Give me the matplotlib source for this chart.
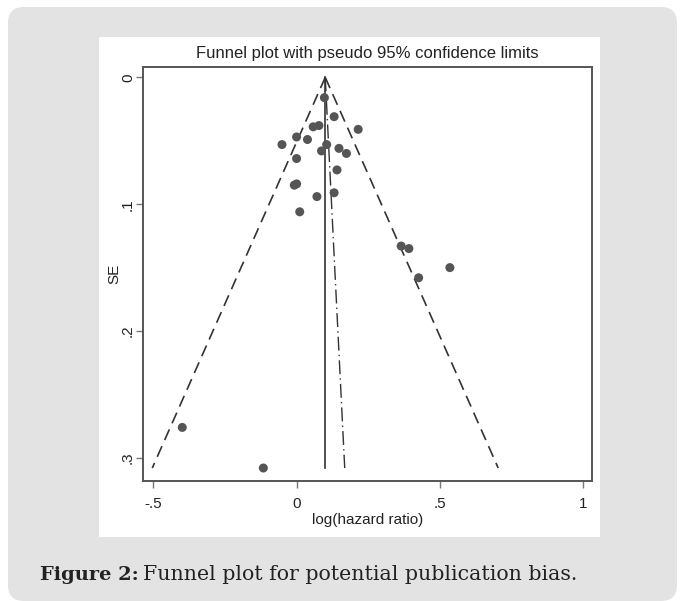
import matplotlib
matplotlib.use("Agg")
import matplotlib.pyplot as plt
from matplotlib.patches import FancyBboxPatch, Rectangle
import numpy as np

# ---- data ----
log_hr = [0.097, 0.131, 0.058, 0.078, 0.215, 0.000, 0.038, -0.051, 0.105, 0.087,
          0.148, 0.174, 0.000, 0.141, -0.008, 0.000, 0.071, 0.131, 0.011, 0.365,
          0.392, 0.535, 0.426, -0.399, -0.116]
se = [0.016, 0.031, 0.039, 0.038, 0.041, 0.047, 0.049, 0.053, 0.053, 0.058,
      0.056, 0.060, 0.064, 0.073, 0.085, 0.084, 0.094, 0.091, 0.106, 0.133,
      0.135, 0.150, 0.158, 0.276, 0.308]
pooled = 0.10            # pooled log(hazard ratio)
egger_x = [0.10, 0.168]  # regression (dash-dot) line at SE = 0 and SE = max
xticks = [-0.5, 0, 0.5, 1]
xtick_labels = ["-.5", "0", ".5", "1"]
yticks = [0, 0.1, 0.2, 0.3]
ytick_labels = ["0", ".1", ".2", ".3"]

W, H = 686, 601
DPI = 100
fig = plt.figure(figsize=(W / DPI, H / DPI), dpi=DPI)
fig.patch.set_facecolor("white")

def fx(px):
    return px / W

def fy(py):
    return 1 - py / H

def inch_box(x0, y0, x1, y1):
    # pixel box (top-left origin) -> inches (bottom-left origin)
    return (x0 / DPI, (H - y1) / DPI, (x1 - x0) / DPI, (y1 - y0) / DPI)

# grey rounded background
bx, by, bw, bh = inch_box(8, 7, 677, 601)
bg = FancyBboxPatch((bx, by), bw, bh,
                    boxstyle="round,pad=0,rounding_size=0.16",
                    transform=fig.dpi_scale_trans, facecolor="#e3e3e3",
                    edgecolor="none", zorder=0)
fig.patches.append(bg)
# white chart panel
px_, py_, pw_, ph_ = inch_box(99, 37, 600, 537)
panel = Rectangle((px_, py_), pw_, ph_, transform=fig.dpi_scale_trans,
                  facecolor="white", edgecolor="none", zorder=1)
fig.patches.append(panel)

ax = fig.add_axes([fx(143.3), fy(480.7), fx(591.7) - fx(143.3), fy(66.7) - fy(480.7)])
ax.set_zorder(2)

se_max = max(se)
se_line = np.array([0, se_max])
# funnel limits
ax.plot(pooled - 1.96 * se_line, se_line, color="#333333", lw=1.2, dashes=(7, 4))
ax.plot(pooled + 1.96 * se_line, se_line, color="#333333", lw=1.2, dashes=(7, 4))
# pooled estimate
ax.plot([pooled, pooled], se_line, color="#333333", lw=1.2)
# regression line
ax.plot(egger_x, se_line, color="#333333", lw=1.0, dashes=(10, 3, 1, 3))
# studies
ax.scatter(log_hr, se, s=42, color="#555555", edgecolors="none", zorder=3)

ax.set_xlim(-0.535, 1.03)
ax.set_ylim(0.318, -0.0084)
ax.set_xticks(xticks)
ax.set_xticklabels(xtick_labels)
ax.set_yticks(yticks)
ax.set_yticklabels(ytick_labels, rotation=90, va="center")

for s in ax.spines.values():
    s.set_color("#555555")
    s.set_linewidth(1.4)
ax.tick_params(direction="out", length=5, width=1.0, color="#777777",
               labelsize=11, labelcolor="#222222")
ax.tick_params(axis="x", pad=7)
ax.tick_params(axis="y", pad=1)

fnt = "Liberation Sans"
for lab in ax.get_xticklabels() + ax.get_yticklabels():
    lab.set_family(fnt)

ax.set_xlabel("log(hazard ratio)", family=fnt, fontsize=11, color="#222222",
              labelpad=1)
ax.set_ylabel("SE", family=fnt, fontsize=11, color="#222222", labelpad=0)
ax.set_title("Funnel plot with pseudo 95% confidence limits", family=fnt,
             fontsize=12, color="#222222", pad=6)

# caption
fig.text(fx(40), fy(580), "Figure 2:", family="DejaVu Serif",
         fontweight="bold", fontsize=14, color="#222222", va="baseline")
fig.text(fx(143), fy(580), "Funnel plot for potential publication bias.",
         family="DejaVu Serif", fontsize=14.8, color="#222222", va="baseline")

fig.savefig("out.png", dpi=DPI)
